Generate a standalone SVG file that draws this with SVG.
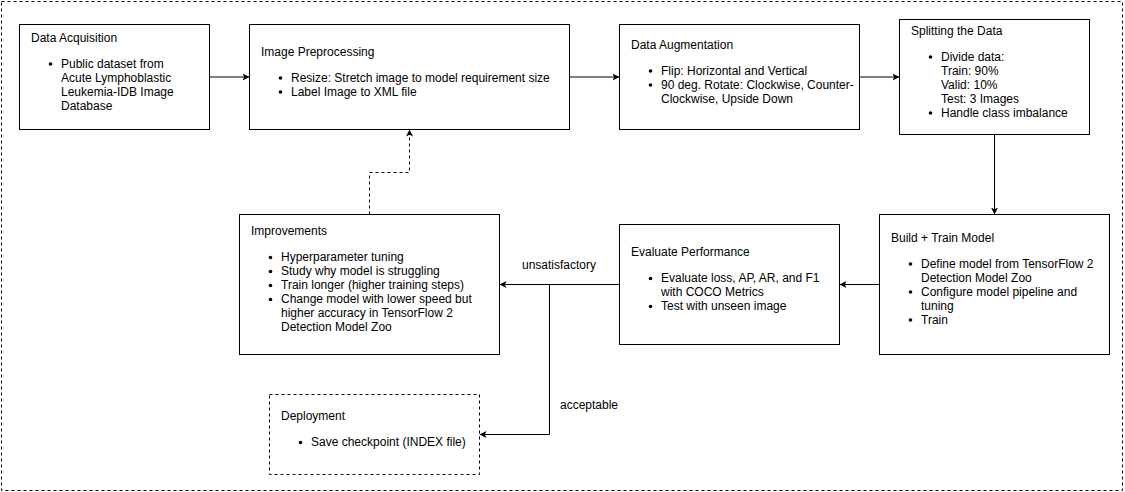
<svg xmlns="http://www.w3.org/2000/svg" width="1125" height="492" viewBox="0 0 1125 492">
<style>
.box{fill:#fff;stroke:#000;stroke-width:1}
.dash{stroke-dasharray:3 3}
.t{font-family:"Liberation Sans",Arial,sans-serif;font-size:12px;fill:#000}
.edge{fill:none;stroke:#000;stroke-width:1}
.dot{fill:#000}
</style>
<defs>
<marker id="arr" markerWidth="8" markerHeight="8" refX="7" refY="4" orient="auto" markerUnits="userSpaceOnUse">
<path d="M0,0.5 L7,4 L0,7.5 L1.75,4 Z" fill="#000"/>
</marker>
</defs>
<rect x="1.5" y="1.5" width="1121" height="489" fill="#fff" stroke="#000" stroke-dasharray="3 3"/>

<g id="connectors">
<path class="edge" d="M209.5,77 L249.5,77" marker-end="url(#arr)"/>
<path class="edge" d="M569.5,77 L619.5,77" marker-end="url(#arr)"/>
<path class="edge" d="M859.5,77 L899.5,77" marker-end="url(#arr)"/>
<path class="edge" d="M994.5,134.5 L994.5,214.5" marker-end="url(#arr)"/>
<path class="edge" d="M879.5,284.5 L839.5,284.5" marker-end="url(#arr)"/>
<path class="edge" d="M619.5,284.5 L499.5,284.5" marker-end="url(#arr)"/>
<path class="edge" d="M619.5,284.5 L549.5,284.5 L549.5,434.5 L479.5,434.5" marker-end="url(#arr)"/>
<path class="edge dash" d="M369.5,214.5 L369.5,172.5 L409.5,172.5 L409.5,129.5" marker-end="url(#arr)"/>
<text class="t" x="559" y="269" text-anchor="middle">unsatisfactory</text>
<text class="t" x="560" y="409">acceptable</text>
</g>

<g id="data-acquisition">
<rect class="box" x="19.5" y="24.5" width="190" height="105"/>
<text class="t" x="31" y="41.5">Data Acquisition</text>
<circle class="dot" cx="50.5" cy="64" r="1.8"/>
<text class="t" x="61" y="67.5">Public dataset from</text>
<text class="t" x="61" y="81.5">Acute Lymphoblastic</text>
<text class="t" x="61" y="95.5">Leukemia-IDB Image</text>
<text class="t" x="61" y="109.5">Database</text>
</g>

<g id="image-preprocessing">
<rect class="box" x="249.5" y="24.5" width="320" height="105"/>
<text class="t" x="261" y="55.5">Image Preprocessing</text>
<circle class="dot" cx="280.5" cy="78" r="1.8"/>
<text class="t" x="291" y="81.5">Resize: Stretch image to model requirement size</text>
<circle class="dot" cx="280.5" cy="92" r="1.8"/>
<text class="t" x="291" y="95.5">Label Image to XML file</text>
</g>

<g id="data-augmentation">
<rect class="box" x="619.5" y="24.5" width="240" height="105"/>
<text class="t" x="631" y="48.5">Data Augmentation</text>
<circle class="dot" cx="650.5" cy="71" r="1.8"/>
<text class="t" x="661" y="74.5">Flip: Horizontal and Vertical</text>
<circle class="dot" cx="650.5" cy="85" r="1.8"/>
<text class="t" x="661" y="88.5">90 deg. Rotate: Clockwise, Counter-</text>
<text class="t" x="661" y="102.5">Clockwise, Upside Down</text>
</g>

<g id="splitting-data">
<rect class="box" x="899.5" y="19.5" width="190" height="115"/>
<text class="t" x="911" y="34.5">Splitting the Data</text>
<circle class="dot" cx="930.5" cy="57" r="1.8"/>
<text class="t" x="941" y="60.5">Divide data:</text>
<text class="t" x="941" y="74.5">Train: 90%</text>
<text class="t" x="941" y="88.5">Valid: 10%</text>
<text class="t" x="941" y="102.5">Test: 3 Images</text>
<circle class="dot" cx="930.5" cy="113" r="1.8"/>
<text class="t" x="941" y="116.5">Handle class imbalance</text>
</g>

<g id="build-train">
<rect class="box" x="879.5" y="214.5" width="230" height="140"/>
<text class="t" x="891" y="241.5">Build + Train Model</text>
<circle class="dot" cx="910.5" cy="264" r="1.8"/>
<text class="t" x="921" y="267.5">Define model from TensorFlow 2</text>
<text class="t" x="921" y="281.5">Detection Model Zoo</text>
<circle class="dot" cx="910.5" cy="292" r="1.8"/>
<text class="t" x="921" y="295.5">Configure model pipeline and</text>
<text class="t" x="921" y="309.5">tuning</text>
<circle class="dot" cx="910.5" cy="320" r="1.8"/>
<text class="t" x="921" y="323.5">Train</text>
</g>

<g id="evaluate-performance">
<rect class="box" x="619.5" y="224.5" width="220" height="120"/>
<text class="t" x="631" y="256">Evaluate Performance</text>
<circle class="dot" cx="650.5" cy="278.5" r="1.8"/>
<text class="t" x="661" y="282">Evaluate loss, AP, AR, and F1</text>
<text class="t" x="661" y="296">with COCO Metrics</text>
<circle class="dot" cx="650.5" cy="306.5" r="1.8"/>
<text class="t" x="661" y="310">Test with unseen image</text>
</g>

<g id="improvements">
<rect class="box" x="239.5" y="214.5" width="260" height="140"/>
<text class="t" x="251" y="235">Improvements</text>
<circle class="dot" cx="270.5" cy="257.5" r="1.8"/>
<text class="t" x="281" y="261">Hyperparameter tuning</text>
<circle class="dot" cx="270.5" cy="271.5" r="1.8"/>
<text class="t" x="281" y="275">Study why model is struggling</text>
<circle class="dot" cx="270.5" cy="285.5" r="1.8"/>
<text class="t" x="281" y="289">Train longer (higher training steps)</text>
<circle class="dot" cx="270.5" cy="299.5" r="1.8"/>
<text class="t" x="281" y="303">Change model with lower speed but</text>
<text class="t" x="281" y="317">higher accuracy in TensorFlow 2</text>
<text class="t" x="281" y="331">Detection Model Zoo</text>
</g>

<g id="deployment">
<rect class="box dash" x="269.5" y="394.5" width="210" height="80"/>
<text class="t" x="281" y="420">Deployment</text>
<circle class="dot" cx="300.5" cy="442.5" r="1.8"/>
<text class="t" x="311" y="446">Save checkpoint (INDEX file)</text>
</g>
</svg>
